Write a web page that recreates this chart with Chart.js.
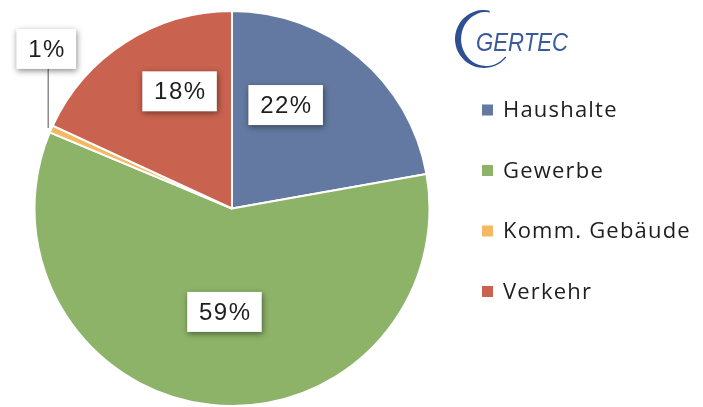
<!DOCTYPE html>
<html>
<head>
<meta charset="utf-8">
<script src="https://cdn.jsdelivr.net/npm/chart.js@4"></script>
<style>
  html, body { margin: 0; padding: 0; background: #ffffff; }
  #wrap { position: relative; width: 703px; height: 407px; overflow: hidden; }
  #logo { position: absolute; left: 0; top: 0; }
</style>
</head>
<body>
<div id="wrap">
  <canvas id="c" width="703" height="407"></canvas>
  <svg id="logo" width="703" height="407" xmlns="http://www.w3.org/2000/svg">
    <path d="M 489 10.4 A 29 29 0 1 0 506.2 57.6 L 505.2 56.4 A 25 27 0 1 1 490.3 12.4 Z" fill="#2F4F93"/>
    <text x="476" y="51" font-family="Liberation Sans, Arial, sans-serif" font-style="italic" font-size="26" fill="#3A5A9A" textLength="92" lengthAdjust="spacingAndGlyphs">GERTEC</text>
  </svg>
</div>
<script>
const categories = ["Haushalte", "Gewerbe", "Komm. Gebäude", "Verkehr"];
const shares = [22.2, 59.1, 0.6, 18.1];
const sliceColors = ["#6479A1", "#8DB368", "#F5B862", "#C9624E"];

const labelFont = "24px 'Liberation Sans', Arial, sans-serif";
const legendFont = "22px 'Open Sans', 'Liberation Sans', Arial, sans-serif";

function drawBox(ctx, cx, cy, text) {
  ctx.save();
  ctx.font = labelFont;
  ctx.letterSpacing = "1.5px";
  const w = ctx.measureText(text).width + 22;
  const h = 40;
  ctx.shadowColor = "rgba(0,0,0,0.45)";
  ctx.shadowBlur = 6;
  ctx.shadowOffsetX = 1;
  ctx.shadowOffsetY = 2;
  ctx.fillStyle = "#ffffff";
  ctx.fillRect(cx - w / 2, cy - h / 2, w, h);
  ctx.restore();
  ctx.save();
  ctx.font = labelFont;
  ctx.letterSpacing = "1.5px";
  ctx.fillStyle = "#1e1e1e";
  ctx.textAlign = "center";
  ctx.textBaseline = "middle";
  ctx.fillText(text, cx + 0.75, cy + 1);
  ctx.restore();
}

const labelPlugin = {
  id: "sliceLabels",
  afterDatasetsDraw(chart, args, opts) {
    const ctx = chart.ctx;
    const meta = chart.getDatasetMeta(0);
    const vals = chart.data.datasets[0].data;
    meta.data.forEach((arc, i) => {
      const p = arc.getProps(["x", "y", "startAngle", "endAngle", "outerRadius"], true);
      const text = Math.round(vals[i]) + "%";
      const place = opts.placement[i];
      if (place.outside) {
        const mid = (p.startAngle + p.endAngle) / 2;
        const ex = p.x + p.outerRadius * Math.cos(mid);
        const ey = p.y + p.outerRadius * Math.sin(mid);
        ctx.save();
        ctx.strokeStyle = "#8c8c8c";
        ctx.lineWidth = 1.5;
        ctx.beginPath();
        ctx.moveTo(ex - 3, ey - 1);
        ctx.lineTo(ex - 3, ey - place.lift);
        ctx.stroke();
        ctx.restore();
        drawBox(ctx, ex - 5, ey - place.lift - 20, text);
      } else {
        const a = p.startAngle + (p.endAngle - p.startAngle) * place.t;
        const r = p.outerRadius * place.r;
        drawBox(ctx, p.x + r * Math.cos(a), p.y + r * Math.sin(a), text);
      }
    });
  }
};

const legendPlugin = {
  id: "sideLegend",
  afterDraw(chart, args, opts) {
    const ctx = chart.ctx;
    const labels = chart.data.labels;
    const colors = chart.data.datasets[0].backgroundColor;
    ctx.save();
    ctx.font = legendFont;
    ctx.letterSpacing = "1.2px";
    ctx.textBaseline = "middle";
    labels.forEach((lab, i) => {
      const y = opts.top + i * opts.step;
      ctx.fillStyle = colors[i];
      ctx.fillRect(opts.left, y - 5.5, 11, 11);
      ctx.fillStyle = "#1e1e1e";
      ctx.fillText(lab, opts.left + 21, y + 1);
    });
    ctx.restore();
  }
};

new Chart(document.getElementById("c"), {
  type: "pie",
  data: {
    labels: categories,
    datasets: [{
      data: shares,
      backgroundColor: sliceColors,
      borderColor: "#ffffff",
      borderWidth: 2
    }]
  },
  options: {
    responsive: false,
    animation: false,
    rotation: 0,
    layout: { padding: { left: 32, top: 10, right: 271, bottom: -3 } },
    plugins: {
      legend: { display: false },
      tooltip: { enabled: false },
      sliceLabels: {
        placement: [
          { t: 0.343, r: 0.59 },
          { t: 0.49, r: 0.525 },
          { outside: true, lift: 60 },
          { t: 0.63, r: 0.65 }
        ]
      },
      sideLegend: { left: 482, top: 110, step: 60.5 }
    }
  },
  plugins: [labelPlugin, legendPlugin]
});
</script>
</body>
</html>
